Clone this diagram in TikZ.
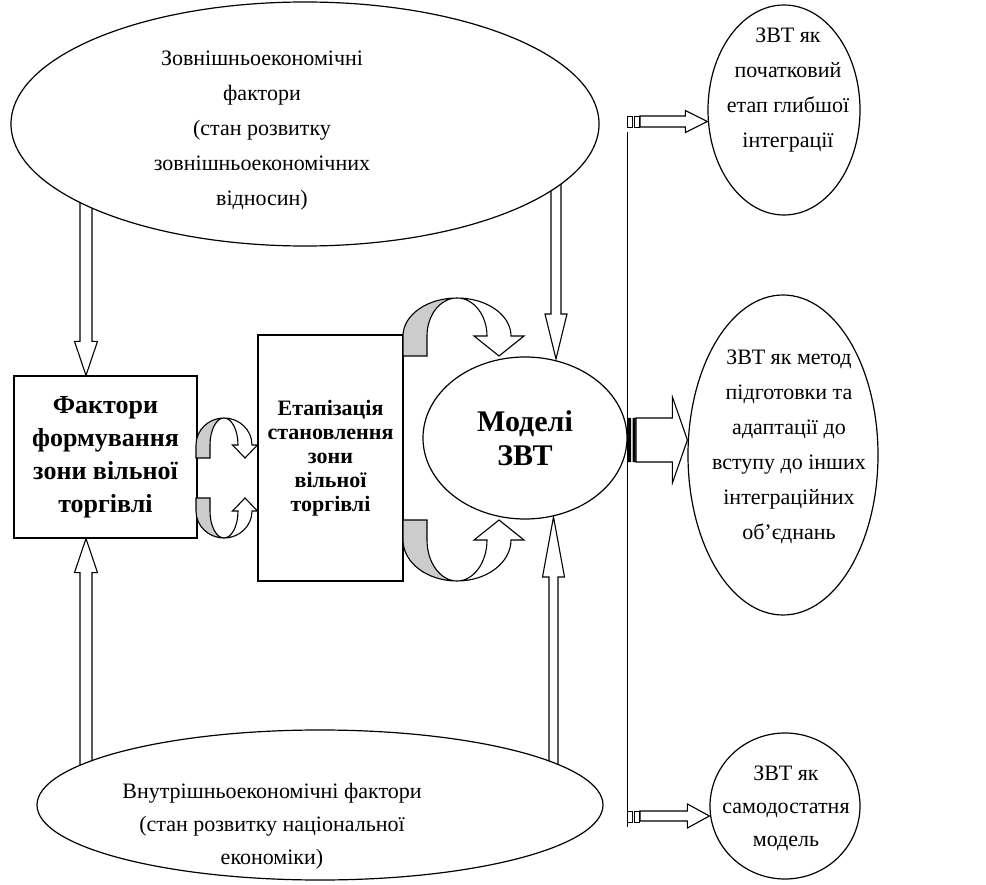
\documentclass[tikz,border=0pt]{standalone}
\usepackage{fontspec}
\setmainfont{Liberation Serif}
\usetikzlibrary{shapes.geometric}
\usetikzlibrary{calc}
\usetikzlibrary{backgrounds}

\newcommand{\vblock}[5]{%
	\draw[barrow] ($(#1)+(-#3,0)$) -- ($(#2)+(-#3,#5)$) -- ($(#2)+(-#4,#5)$) -- (#2)
		-- ($(#2)+(#4,#5)$) -- ($(#2)+(#3,#5)$) -- ($(#1)+(#3,0)$) -- cycle;}
\newcommand{\hblock}[5]{%
	\draw[barrow] ($(#1)+(0,-#3)$) -- ($(#2)+(-#5,-#3)$) -- ($(#2)+(-#5,-#4)$) -- (#2)
		-- ($(#2)+(-#5,#4)$) -- ($(#2)+(-#5,#3)$) -- ($(#1)+(0,#3)$) -- cycle;}
\newcommand{\turnarr}[8]{%
	\begin{scope}[shift={(#1,#2)}, yscale=#3]
		\draw[band] (-#4,0) -- (-#4,-#7) arc[start angle=180, end angle=90, x radius=#4pt, y radius=#6pt]
			arc[start angle=90, end angle=180, x radius=#5pt, y radius=#6pt] -- (-#5,0) -- cycle;
		\draw[barrow] (0,{-#7-#6}) arc[start angle=90, end angle=0, x radius=#4pt, y radius=#6pt]
			-- ({(#4+#5)/2+#8},-#7) -- ({(#4+#5)/2},0) -- ({(#4+#5)/2-#8},-#7) -- (#5,-#7)
			arc[start angle=0, end angle=90, x radius=#5pt, y radius=#6pt] -- cycle;
	\end{scope}}

\begin{document}
\begin{tikzpicture}[x=1pt, y=-1pt,
	oval/.style={ellipse, draw, line width=1.2pt, fill=white, inner sep=0pt},
	factbox/.style={rectangle, draw, line width=1.2pt, fill=white, align=center, inner sep=0pt},
	txt/.style={align=center, font=\fontsize{22}{35}\selectfont},
	barrow/.style={draw, fill=white, line width=1.1pt},
	band/.style={draw, fill=black!20, line width=1.1pt}]
	\useasboundingbox (0,0) rectangle (986,885);

	\node[oval, minimum width=588, minimum height=244] (ext) at (305,124) {};
	\node[txt] (exttext) at (262,131) {Зовнішньоекономічні\\фактори\\(стан розвитку\\зовнішньоекономічних\\відносин)};
	\node[oval, minimum width=566, minimum height=150] (int) at (320,805) {};
	\node[txt, font=\fontsize{22}{33}\selectfont] (inttext) at (272,826) {Внутрішньоекономічні фактори\\(стан розвитку національної\\економіки)};

	\node[factbox, minimum width=183, minimum height=162, font=\bfseries\fontsize{26}{33}\selectfont] (fact) at (105.5,457) {Фактори\\формування\\зони вільної\\торгівлі};
	\node[factbox, minimum width=145, minimum height=246, font=\bfseries\fontsize{22}{24}\selectfont] (stage) at (330.5,458) {Етапізація\\становлення\\зони\\вільної\\торгівлі};
	\node[oval, minimum width=204, minimum height=162, font=\bfseries\fontsize{30}{34}\selectfont, align=center] (model) at (525,438) {Моделі\\ЗВТ};

	\node[oval, minimum width=152, minimum height=210] (zt) at (784,110) {};
	\node[txt] (zttext) at (788,90) {ЗВТ як\\початковий\\етап глибшої\\інтеграції};
	\node[oval, minimum width=190, minimum height=320] (zm) at (783,455) {};
	\node[txt] (zmtext) at (789,447) {ЗВТ як метод\\підготовки та\\адаптації до\\вступу до інших\\інтеграційних\\об’єднань};
	\node[oval, minimum width=150, minimum height=146] (zb) at (785,806) {};
	\node[txt, font=\fontsize{22}{33}\selectfont] (zbtext) at (786,808) {ЗВТ як\\самодостатня\\модель};

	\coordinate (ltop) at (86,200);
	\coordinate (lbot) at (86,790);
	\coordinate (rtop) at (556,150);
	\coordinate (rbot) at (553.5,790);
	\begin{scope}[on background layer]
		\vblock{ltop}{ltop |- fact.north}{6}{11.5}{-34}
		\vblock{lbot}{lbot |- fact.south}{6}{11.5}{34}
		\vblock{rtop}{556,359}{5}{11}{-45}
		\vblock{rbot}{553.5,517}{4.5}{11}{60}
	\end{scope}

	\turnarr{224}{458}{1}{28}{14}{27}{13}{12.5}
	\turnarr{224}{498}{-1}{28}{14}{27}{13}{12.5}
	\turnarr{457}{356}{1}{54}{30}{38}{20}{25}
	\turnarr{457}{520}{-1}{54}{30}{41}{20}{25}

	\coordinate (vtop) at (627,132);
	\coordinate (vbot) at (627,827);
	\draw[line width=1pt] (vtop) -- (vbot);

	\coordinate (za) at (640,121.5);
	\coordinate (zc) at (636,440);
	\coordinate (zd) at (640,816);
	\draw[line width=0.9pt] (627,116) rectangle (632,127) (634,116) rectangle (639,127);
	\hblock{za}{za -| zt.west}{5.5}{11}{22}
	\fill (628,418) rectangle (631,462) (632.5,418) rectangle (635.5,462);
	\hblock{zc}{zc -| zm.west}{22}{43}{15}
	\draw[line width=0.9pt] (627,811) rectangle (632,822) (634,811) rectangle (639,822);
	\hblock{zd}{zd -| zb.west}{5}{12}{22}
\end{tikzpicture}
\end{document}
